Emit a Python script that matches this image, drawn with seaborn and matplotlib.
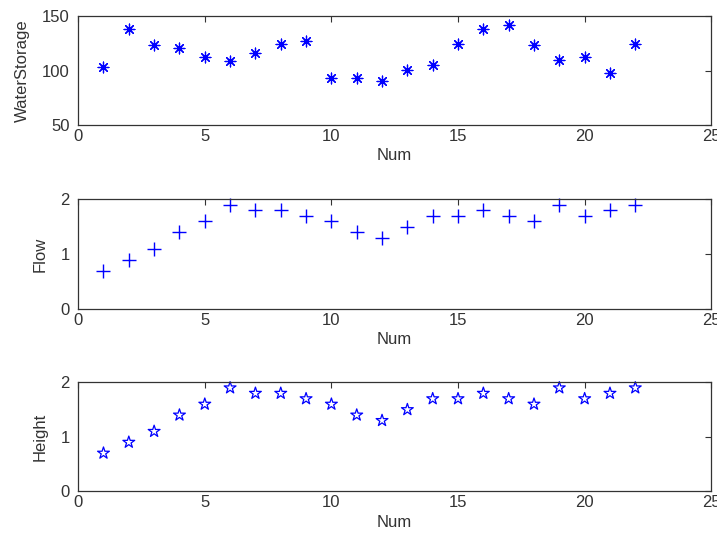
import numpy as np
import pandas as pd
import matplotlib
matplotlib.use("Agg")
import matplotlib.pyplot as plt
import seaborn as sns

num = list(range(1, 23))
water_storage = [103, 138, 124, 121, 113, 109, 116, 125, 127, 93, 93, 91,
                 101, 105, 125, 138, 142, 124, 110, 113, 98, 125]
flow = [0.7, 0.9, 1.1, 1.4, 1.6, 1.9, 1.8, 1.8, 1.7, 1.6, 1.4, 1.3,
        1.5, 1.7, 1.7, 1.8, 1.7, 1.6, 1.9, 1.7, 1.8, 1.9]
height = [0.7, 0.9, 1.1, 1.4, 1.6, 1.9, 1.8, 1.8, 1.7, 1.6, 1.4, 1.3,
          1.5, 1.7, 1.7, 1.8, 1.7, 1.6, 1.9, 1.7, 1.8, 1.9]

df = pd.DataFrame({"Num": num, "WaterStorage": water_storage,
                   "Flow": flow, "Height": height})

sns.set_style("white")
plt.rcParams['font.family'] = ['Liberation Sans', 'DejaVu Sans']
plt.rcParams['font.size'] = 12

fig = plt.figure(figsize=(7.17, 5.44), dpi=100)
boxes = [[0.109, 0.770, 0.883, 0.200],
         [0.109, 0.432, 0.883, 0.202],
         [0.109, 0.097, 0.883, 0.200]]
axes = [fig.add_axes(b) for b in boxes]

# top: asterisks
sns.scatterplot(data=df, x="Num", y="WaterStorage", ax=axes[0],
                marker=(8, 2, 0), s=60, color="blue", linewidth=0.9)
axes[0].set_ylim(50, 150)
axes[0].set_yticks([50, 100, 150])

# middle: plus
sns.scatterplot(data=df, x="Num", y="Flow", ax=axes[1],
                marker="+", s=105, color="blue", linewidth=1.0)
axes[1].set_ylim(0, 2)
axes[1].set_yticks([0, 1, 2])

# bottom: hollow stars
axes[2].scatter(df["Num"], df["Height"], marker="*", s=80,
                facecolors="none", edgecolors="blue", linewidths=0.9)
axes[2].set_ylim(0, 2)
axes[2].set_yticks([0, 1, 2])
axes[2].set_ylabel("Height")

for ax in axes:
    ax.set_xlim(0, 25)
    ax.set_xticks([0, 5, 10, 15, 20, 25])
    ax.set_xlabel("Num", labelpad=3)
    ax.yaxis.labelpad = 9
    ax.tick_params(direction="in", length=4, width=0.8, top=True, right=True,
                   colors="#333333", labelcolor="#333333", labelsize=12)
    ax.tick_params(axis="x", pad=3)
    ax.tick_params(axis="y", pad=6)
    ax.xaxis.label.set_color("#333333")
    ax.yaxis.label.set_color("#333333")
    for sp in ax.spines.values():
        sp.set_visible(True)
        sp.set_color("#333333")
        sp.set_linewidth(0.9)
    for coll in ax.collections:
        coll.set_clip_on(False)

fig.savefig("out.png", dpi=100)
